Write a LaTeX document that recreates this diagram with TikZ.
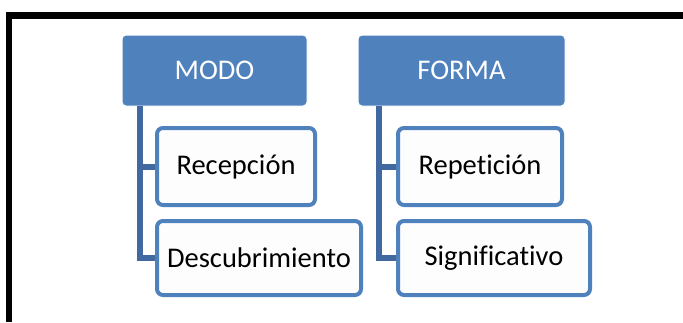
\documentclass[tikz,border=0pt]{standalone}
\usepackage{fontspec}
\setmainfont[Ligatures={NoCommon}]{Carlito}
\definecolor{hdr}{HTML}{4F81BD}
\definecolor{conn}{HTML}{41699F}
\definecolor{kidfill}{HTML}{FDFDFD}
\begin{document}
\begin{tikzpicture}[x=1pt,y=-1pt,
  hdrbox/.style={fill=hdr,draw=white,line width=1pt,rounded corners=4pt,inner sep=0pt,
    font=\fontsize{28.5}{30}\selectfont,text=white},
  kidbox/.style={fill=kidfill,draw=hdr,line width=4pt,rounded corners=6pt,inner sep=0pt,
    font=\fontsize{28.5}{30}\selectfont,text=black},
  link/.style={draw=conn,line width=6pt}]
\useasboundingbox (0,0) rectangle (683,322);
\fill[white] (0,0) rectangle (683,322);
% frame
\fill[black] (6,12) rectangle (683,19);
\fill[black] (6,12) rectangle (12,322);
% headers
\node[hdrbox,minimum width=185pt,minimum height=71pt] (modo) at (214.5,70.5) {MODO};
\node[hdrbox,minimum width=207pt,minimum height=71pt] (forma) at (461.5,70.5) {FORMA};
% connector anchors below the headers
\coordinate (m0) at (139.5,106);
\coordinate (f0) at (378.5,106);
% child box positions
\coordinate (recc) at (236,166.5);
\coordinate (desc) at (259,258);
\coordinate (repc) at (480,166.5);
\coordinate (sigc) at (494,258);
% invisible placeholders to get anchors for connectors
\path (recc) node[minimum width=158pt,minimum height=77pt,inner sep=0pt] (rec0) {};
\path (desc) node[minimum width=204pt,minimum height=74pt,inner sep=0pt] (des0) {};
\path (repc) node[minimum width=164pt,minimum height=77pt,inner sep=0pt] (rep0) {};
\path (sigc) node[minimum width=192pt,minimum height=74pt,inner sep=0pt] (sig0) {};
% connectors
\draw[link] (m0) -- (m0 |- des0.west) -- (des0.west);
\draw[link] (m0 |- rec0.west) -- (rec0.west);
\draw[link] (f0) -- (f0 |- sig0.west) -- (sig0.west);
\draw[link] (f0 |- rep0.west) -- (rep0.west);
% child boxes on top
\node[kidbox,minimum width=158pt,minimum height=77pt] (rec) at (recc) {Recepción};
\node[kidbox,minimum width=204pt,minimum height=74pt] (des) at (desc) {Descubrimiento};
\node[kidbox,minimum width=164pt,minimum height=77pt] (rep) at (repc) {Repetición};
\node[kidbox,minimum width=192pt,minimum height=74pt] (sig) at (sigc) {Significativo};
\end{tikzpicture}
\end{document}
